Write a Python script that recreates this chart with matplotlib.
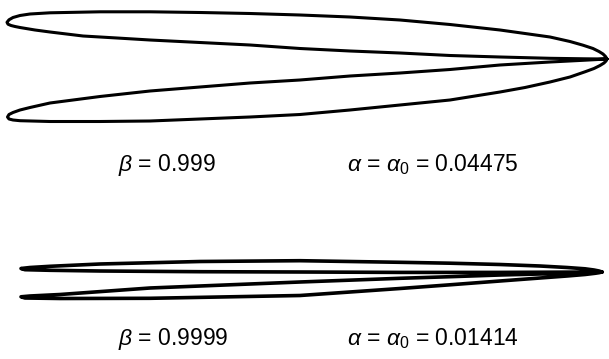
import matplotlib
matplotlib.use("Agg")
import matplotlib.pyplot as plt

plt.rcParams['mathtext.fontset'] = 'custom'
plt.rcParams['mathtext.rm'] = 'Liberation Sans'
plt.rcParams['mathtext.it'] = 'Liberation Sans:italic'
plt.rcParams['font.family'] = ['Liberation Sans', 'DejaVu Sans']

# ---- Pattern 1 (beta = 0.999) (x to the right, y downward) ----
p1_upper_outer_x = [607, 605.5, 603, 599, 593, 583, 570, 550, 525, 500, 450, 400, 350, 300, 250, 200, 150, 100, 50, 30, 20, 13, 9, 7]
p1_upper_outer_y = [59, 56.5, 54, 51.5, 48.5, 45.2, 41.5, 37, 33.5, 30, 24.5, 20, 17, 15, 13.5, 12.5, 11.8, 11.8, 12.8, 14, 15.5, 17.5, 19.8, 22.3]
p1_upper_inner_x = [8, 11, 15, 20, 35, 50, 83, 117, 150, 200, 250, 300, 350, 400, 450, 500, 550, 585, 607]
p1_upper_inner_y = [24.2, 25.5, 26.5, 27.5, 30, 32, 36, 38, 40, 42.5, 45, 48.5, 51, 53, 55.5, 57, 58.3, 58.8, 59]
p1_lower_inner_x = [607, 585, 550, 500, 450, 400, 350, 300, 250, 200, 150, 100, 50, 30, 20, 13, 9, 7.5]
p1_lower_inner_y = [59, 60.2, 62, 65, 69.5, 73, 76, 80, 83, 87, 91, 96.5, 103, 107.5, 110, 112.5, 114.5, 117]
p1_lower_outer_x = [9, 13, 20, 50, 100, 150, 200, 250, 300, 350, 400, 450, 500, 525, 550, 570, 585, 594, 600, 604, 606, 607]
p1_lower_outer_y = [119, 120, 120.7, 121.5, 121.5, 121, 119, 117, 114.5, 110, 105, 100, 92, 87.5, 82, 77, 71.8, 68.5, 65.5, 63, 61, 59]

# ---- Pattern 2 (beta = 0.9999) ----
p2_upper_outer_x = [602, 599, 594, 585, 567, 540, 500, 450, 400, 300, 200, 100, 50, 30, 21]
p2_upper_outer_y = [272, 271, 270, 268.8, 267.5, 266, 264.5, 263.2, 262.3, 260.7, 261.5, 264, 266.3, 267.5, 268.5]
p2_upper_inner_x = [25, 50, 100, 200, 300, 400, 500, 602]
p2_upper_inner_y = [269.7, 270.3, 271, 271.7, 272, 272.4, 272.4, 272]
p2_lower_inner_x = [602, 560, 500, 450, 400, 300, 150, 60, 30, 21]
p2_lower_inner_y = [272, 273.5, 275, 276.7, 278.3, 282, 288, 294.5, 296, 296.8]
p2_lower_outer_x = [25, 60, 150, 300, 400, 450, 500, 540, 567, 585, 595, 599, 602]
p2_lower_outer_y = [298, 298.5, 298.3, 295.5, 288.5, 284.8, 281, 278, 276, 274.5, 273.3, 272.7, 272]

labels_beta = [r'$\beta$ = 0.999', r'$\beta$ = 0.9999']
labels_alpha = [r'$\alpha$ = $\alpha_0$ = 0.04475', r'$\alpha$ = $\alpha_0$ = 0.01414']

fig = plt.figure(figsize=(6.09, 3.59), dpi=100)
ax = fig.add_axes([0, 0, 1, 1])
ax.set_xlim(0, 609)
ax.set_ylim(359, 0)
ax.axis('off')

def draw(parts, lw):
    xs, ys = [], []
    for px, py in parts:
        xs += px
        ys += py
    ax.plot(xs, ys, color='black', lw=lw, solid_joinstyle='round', solid_capstyle='round')

draw([(p1_upper_outer_x, p1_upper_outer_y), (p1_upper_inner_x, p1_upper_inner_y),
      (p1_lower_inner_x, p1_lower_inner_y), (p1_lower_outer_x, p1_lower_outer_y)], 2.2)
draw([(p2_upper_outer_x, p2_upper_outer_y), (p2_upper_inner_x, p2_upper_inner_y),
      (p2_lower_inner_x, p2_lower_inner_y), (p2_lower_outer_x, p2_lower_outer_y)], 2.6)

fs = 16.5
ax.text(118, 171, labels_beta[0], fontsize=fs, ha='left', va='baseline')
ax.text(347, 171, labels_alpha[0], fontsize=fs, ha='left', va='baseline')
ax.text(118, 345, labels_beta[1], fontsize=fs, ha='left', va='baseline')
ax.text(347, 345, labels_alpha[1], fontsize=fs, ha='left', va='baseline')

fig.savefig('out.png', dpi=100)
